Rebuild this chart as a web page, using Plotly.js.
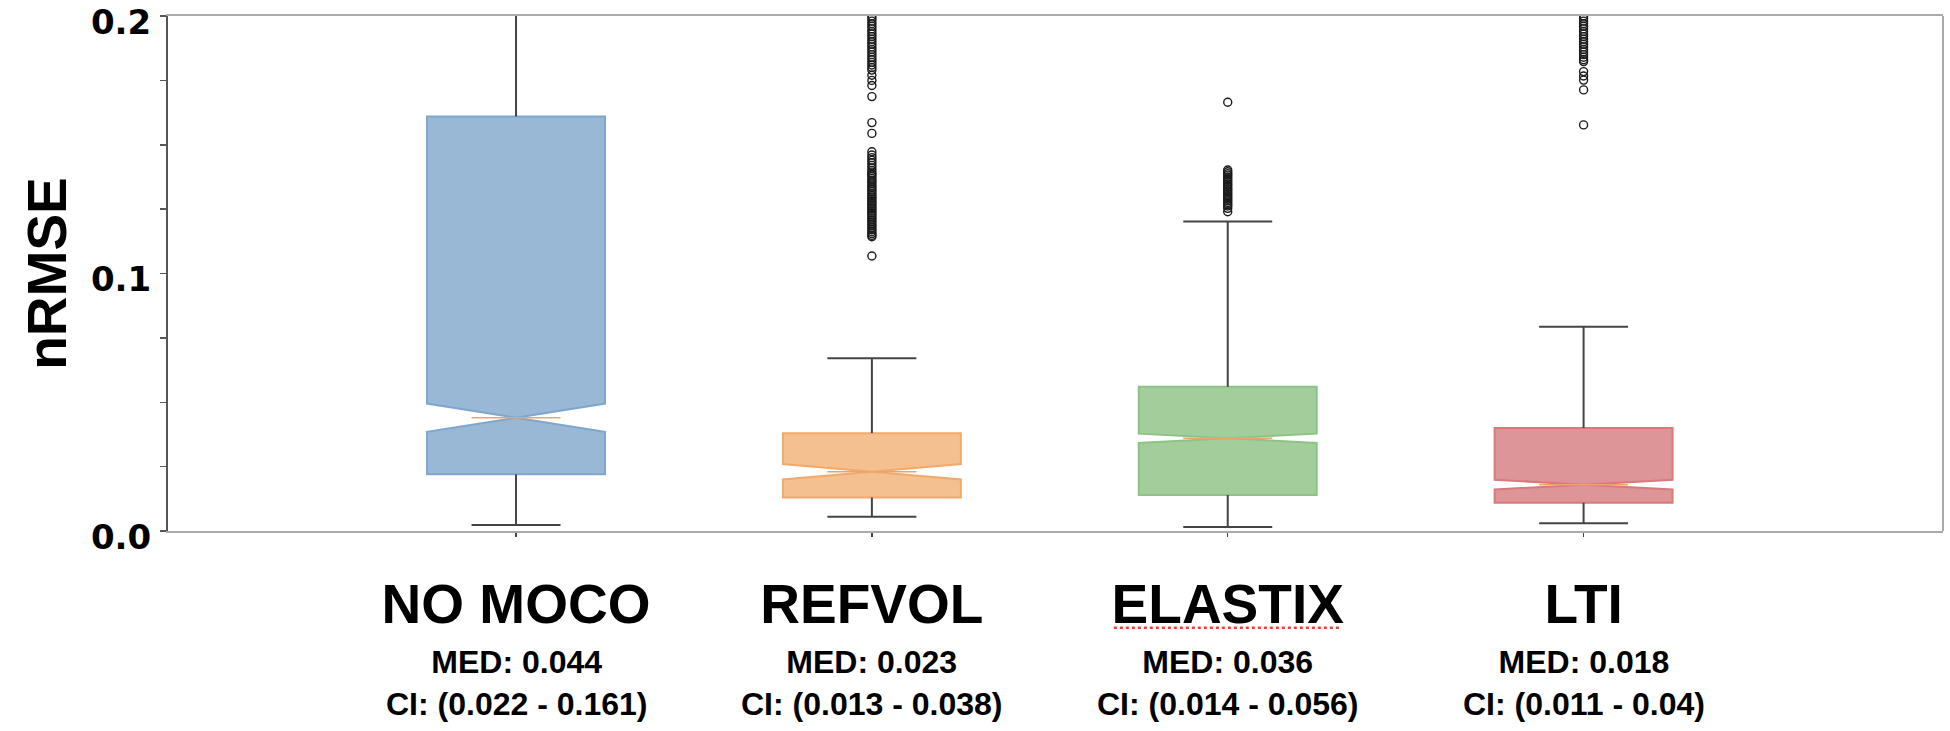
<!DOCTYPE html>
<html><head><meta charset="utf-8">
<script src="https://cdn.plot.ly/plotly-3.0.1.min.js"></script>
<style>html,body{margin:0;padding:0;background:#fff}</style>
</head><body><div id="chart" style="width:1950px;height:731px"></div>
<script>
// ---- data ----
const categories = ['NO MOCO', 'REFVOL', 'ELASTIX', 'LTI'];
const positions = [1, 2, 3, 4];
const q1 = [0.022, 0.013, 0.014, 0.011];
const medians = [0.044, 0.023, 0.036, 0.018];
const q3 = [0.161, 0.038, 0.056, 0.04];
const notchHalf = [0.0055, 0.003, 0.0018, 0.0019];
const whiskerLow = [0.0023, 0.0055, 0.0016, 0.0030];
const whiskerHigh = [0.30, 0.0671, 0.1202, 0.0793];

const outliersNoMoco = [];
const outliersRefvol = [0.200, 0.199, 0.198, 0.197, 0.196, 0.195, 0.194, 0.193, 0.192, 0.191, 0.190, 0.189,
  0.188, 0.187, 0.186, 0.185, 0.184, 0.183, 0.182, 0.181, 0.180, 0.179, 0.177, 0.175, 0.173, 0.1687,
  0.1586, 0.1544,
  0.1473, 0.1460, 0.1450, 0.1440, 0.1430, 0.1420, 0.1410, 0.1400, 0.1390, 0.1385, 0.1378, 0.1370,
  0.1362, 0.1355, 0.1348, 0.1340, 0.1333, 0.1325, 0.1318, 0.1310, 0.1303, 0.1296, 0.1290, 0.1283,
  0.1276, 0.1270, 0.1263, 0.1256, 0.1250, 0.1243, 0.1236, 0.1229, 0.1222, 0.1215, 0.1208, 0.1200,
  0.1192, 0.1185, 0.1177, 0.1170, 0.1162, 0.1155, 0.1148, 0.1143, 0.1068];
const outliersElastix = [0.1665, 0.1402, 0.1395, 0.1388, 0.1382, 0.1375, 0.1368, 0.1362, 0.1355, 0.1348,
  0.1342, 0.1335, 0.1328, 0.1322, 0.1315, 0.1308, 0.1302, 0.1295, 0.1288, 0.1282, 0.1275, 0.1268,
  0.1262, 0.1253, 0.1240];
const outliersLti = [0.200, 0.199, 0.198, 0.197, 0.196, 0.195, 0.194, 0.193, 0.192, 0.191, 0.190, 0.189,
  0.188, 0.187, 0.186, 0.185, 0.184, 0.183, 0.1823, 0.1784, 0.1767, 0.1751, 0.1713, 0.1577];
const outliers = [outliersNoMoco, outliersRefvol, outliersElastix, outliersLti];

const yTickVals = [0, 0.1, 0.2];
const yTickText = ['0.0', '0.1', '0.2'];

// ---- styles ----
const fillColors = ['#98b8d6', '#f5c08f', '#a3cd9b', '#dd9597'];
const edgeColors = ['#7ea6cf', '#f2aa6a', '#8dc486', '#d9797c'];
const medianColor = '#e9a66c';
const whiskerColor = '#444444';
const capHalf = 0.125;
const boldSans = 'Liberation Sans, Arial, Helvetica, sans-serif';

const traces = [];

// boxes
categories.forEach((c, i) => {
  traces.push({
    type: 'box', name: c, x: [positions[i]],
    q1: [q1[i]], median: [medians[i]], q3: [q3[i]],
    lowerfence: [q1[i]], upperfence: [q3[i]],
    notched: true, notchspan: [notchHalf[i]], notchwidth: 0.5,
    width: 0.5, whiskerwidth: 0, boxpoints: false,
    fillcolor: fillColors[i], line: {color: edgeColors[i], width: 2},
    showlegend: false, hoverinfo: 'skip'
  });
});

// whiskers & caps
const wx = [], wy = [];
categories.forEach((c, i) => {
  const p = positions[i];
  wx.push(p, p, null, p, p, null);
  wy.push(q3[i], whiskerHigh[i], null, whiskerLow[i], q1[i], null);
  wx.push(p - capHalf, p + capHalf, null, p - capHalf, p + capHalf, null);
  wy.push(whiskerLow[i], whiskerLow[i], null, whiskerHigh[i], whiskerHigh[i], null);
});
traces.push({type: 'scatter', mode: 'lines', x: wx, y: wy, line: {color: whiskerColor, width: 2},
  showlegend: false, hoverinfo: 'skip'});

// medians
const mx = [], my = [];
categories.forEach((c, i) => {
  mx.push(positions[i] - capHalf, positions[i] + capHalf, null);
  my.push(medians[i], medians[i], null);
});
traces.push({type: 'scatter', mode: 'lines', x: mx, y: my, line: {color: medianColor, width: 1.5},
  showlegend: false, hoverinfo: 'skip'});

// outliers
categories.forEach((c, i) => {
  if (!outliers[i].length) return;
  traces.push({type: 'scatter', mode: 'markers', x: outliers[i].map(() => positions[i]), y: outliers[i],
    marker: {symbol: 'circle-open', size: 8, color: '#1a1a1a', line: {width: 1.4}},
    showlegend: false, hoverinfo: 'y'});
});

const annotations = categories.map((c, i) => ({
  xref: 'x', yref: 'paper', x: positions[i], y: -0.215, yanchor: 'top', xanchor: 'center',
  showarrow: false,
  text: 'MED: ' + medians[i] + '<br>CI: (' + q1[i] + ' - ' + q3[i] + ')',
  font: {family: boldSans, size: 32, color: '#000', weight: 'bold'}
}));

const layout = {
  width: 1950, height: 731,
  margin: {l: 168, r: 7, t: 16, b: 200},
  paper_bgcolor: '#fff', plot_bgcolor: '#fff',
  showlegend: false,
  xaxis: {
    type: 'linear', range: [0.022, 5.01], tickvals: positions, ticktext: categories,
    ticks: 'outside', ticklen: 4, tickcolor: '#444', tickwidth: 1.5,
    showline: true, linecolor: '#aaaaaa', linewidth: 2, mirror: true,
    showgrid: false, zeroline: false, ticklabelstandoff: 20,
    tickfont: {family: boldSans, size: 55, color: '#000', weight: 'bold'}
  },
  yaxis: {
    range: [0, 0.2], tickvals: yTickVals, ticktext: yTickText,
    ticks: 'outside', ticklen: 6, tickcolor: '#555', tickwidth: 1.5,
    minor: {dtick: 0.025, ticks: 'outside', ticklen: 6, tickcolor: '#555', tickwidth: 1.5},
    showline: true, linecolor: '#555', linewidth: 2,
    showgrid: false, zeroline: false, ticklabelstandoff: 2, ticklabelshift: 6,
    ticklabeloverflow: 'allow',
    tickfont: {family: 'DejaVu Sans, sans-serif', size: 34, color: '#000', weight: 'bold'},
    title: {text: 'nRMSE', standoff: 7, font: {family: boldSans, size: 55, color: '#000', weight: 'bold'}}
  },
  shapes: [
    {type: 'line', xref: 'paper', yref: 'paper', x0: 1, x1: 1, y0: 0, y1: 1,
      line: {color: '#aaaaaa', width: 2}},
    {type: 'line', xref: 'x', yref: 'paper', x0: 2.68, x1: 3.32, y0: -0.188, y1: -0.188,
      line: {color: '#e8413a', width: 2.5, dash: 'dot'}}
  ],
  annotations: annotations
};

Plotly.newPlot('chart', traces, layout, {staticPlot: true, displayModeBar: false});
</script></body></html>
